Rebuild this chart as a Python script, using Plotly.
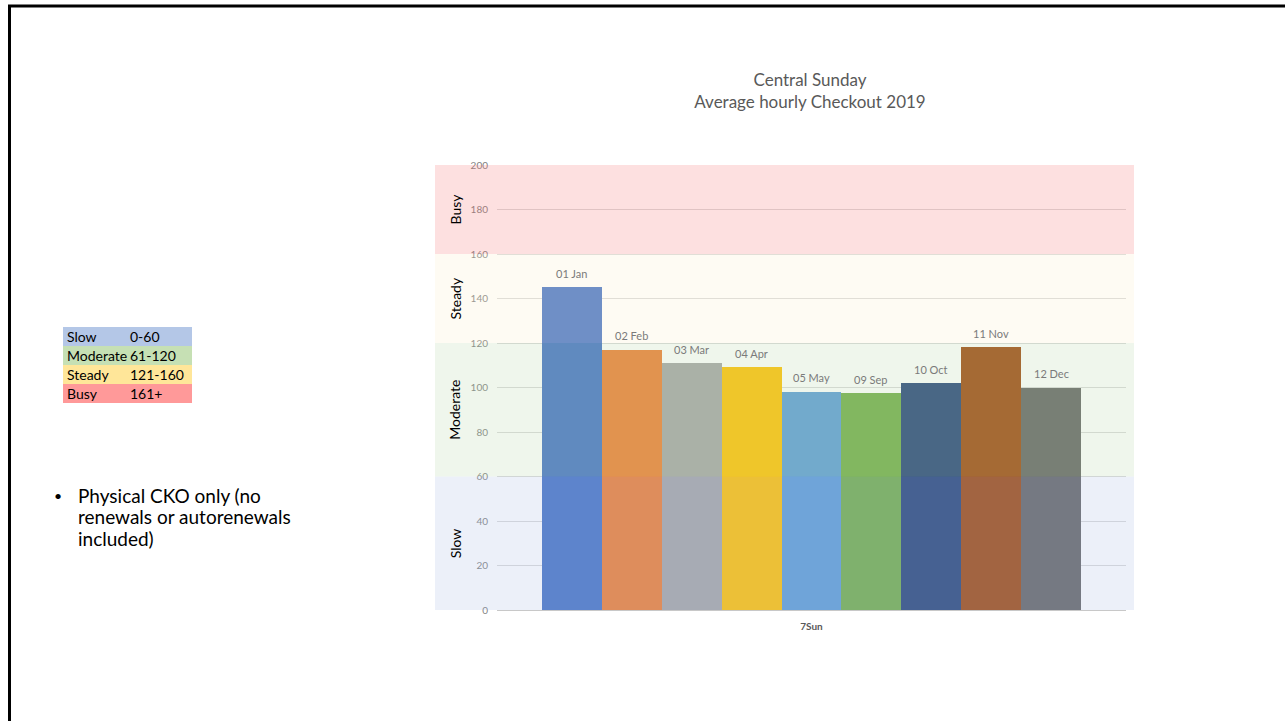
import plotly.graph_objects as go

# ---------------- data ----------------
months = ["01 Jan", "02 Feb", "03 Mar", "04 Apr", "05 May", "09 Sep", "10 Oct", "11 Nov", "12 Dec"]
checkouts = [145, 117, 111, 109, 98, 97.5, 102, 118, 100]
bar_colors = ["#4472C4", "#ED7D31", "#A5A5A5", "#FFC000", "#5B9BD5",
              "#70AD47", "#264478", "#9E480E", "#636363"]
category_label = "7Sun"

band_names = ["Slow", "Moderate", "Steady", "Busy"]
band_low = [0, 60, 120, 160]
band_high = [60, 120, 160, 200]
band_ranges = ["0-60", "61-120", "121-160", "161+"]
table_colors = ["#B4C7E7", "#C6E0B4", "#FFE699", "#FF9999"]
overlay_colors = ["#B1C1E5", "#BCDAAF", "#FAEECD", "#F77E7E"]

title_lines = ["Central Sunday", "Average hourly Checkout 2019"]
note_lines = ["Physical CKO only (no", "renewals or autorenewals", "included)"]

# ---------------- layout helpers ----------------
W, H = 1285, 721
ML, MR, MT, MB = 497, 159, 165, 111
PW, PH = W - ML - MR, H - MT - MB


def px(x):
    return (x - ML) / PW


def py(y):
    return (H - MB - y) / PH


FONT = "Lato"

fig = go.Figure()
fig.add_trace(go.Bar(
    x=months, y=checkouts,
    marker=dict(color=bar_colors, line=dict(width=0)),
    showlegend=False, hoverinfo="x+y",
))

shapes = []
annotations = []

# coloured bands drawn semi-transparently above the bars
for name, lo, hi, col in zip(band_names, band_low, band_high, overlay_colors):
    shapes.append(dict(type="rect", xref="paper", yref="y", layer="above",
                       x0=px(435), x1=px(1134), y0=lo, y1=hi,
                       fillcolor=col, opacity=0.24, line=dict(width=0)))
    annotations.append(dict(xref="paper", yref="y", x=px(455), y=(lo + hi) / 2,
                            text=name, textangle=-90, showarrow=False,
                            xanchor="center", yanchor="middle",
                            font=dict(family=FONT, size=14, color="#000000")))

# data labels
for m, v in zip(months, checkouts):
    annotations.append(dict(x=m, y=v, xref="x", yref="y", text=m, showarrow=False,
                            yshift=14, xanchor="center", yanchor="middle",
                            font=dict(family=FONT, size=11, color="#7A7A7A")))

# legend table at left
row_top = 327
row_h = 19
for i, (name, rng, col) in enumerate(zip(band_names, band_ranges, table_colors)):
    y0 = row_top + i * row_h
    shapes.append(dict(type="rect", xref="paper", yref="paper",
                       x0=px(63), x1=px(192), y0=py(y0 + row_h), y1=py(y0),
                       fillcolor=col, line=dict(width=0), layer="below"))
    annotations.append(dict(xref="paper", yref="paper", x=px(65), y=py(y0 + row_h / 2),
                            text=name, showarrow=False, xanchor="left", yanchor="middle",
                            font=dict(family=FONT, size=14, color="#000000")))
    annotations.append(dict(xref="paper", yref="paper", x=px(128), y=py(y0 + row_h / 2),
                            text=rng, showarrow=False, xanchor="left", yanchor="middle",
                            font=dict(family=FONT, size=14, color="#000000")))

# bullet note
annotations.append(dict(xref="paper", yref="paper", x=px(58), y=py(495), text="•",
                        showarrow=False, xanchor="center", yanchor="middle",
                        font=dict(family=FONT, size=14, color="#000000")))
for i, line in enumerate(note_lines):
    annotations.append(dict(xref="paper", yref="paper", x=px(76), y=py(495 + i * 21.5),
                            text=line, showarrow=False,
                            xanchor="left", yanchor="middle", align="left",
                            font=dict(family=FONT, size=19, color="#000000")))

# slide frame (left and top edges)
shapes.append(dict(type="line", xref="paper", yref="paper",
                   x0=px(9.5), x1=px(9.5), y0=py(5), y1=py(H + 5),
                   line=dict(color="#000000", width=3)))
shapes.append(dict(type="line", xref="paper", yref="paper",
                   x0=px(8), x1=px(W + 5), y0=py(6), y1=py(6),
                   line=dict(color="#000000", width=3)))

fig.update_layout(
    width=W, height=H,
    margin=dict(l=ML, r=MR, t=MT, b=MB, autoexpand=False),
    paper_bgcolor="#FFFFFF", plot_bgcolor="rgba(0,0,0,0)",
    bargap=0,
    title=dict(text="<br>".join(title_lines), x=px(810), xref="paper", xanchor="center",
               y=1 - 86 / H, yref="container", yanchor="middle",
               font=dict(family=FONT, size=17, color="#595959")),
    xaxis=dict(type="category", range=[-1.25, len(months) - 1 + 1.25],
               showticklabels=False, showgrid=False, zeroline=False,
               showline=True, linecolor="#C8C8C8", linewidth=1,
               title=dict(text="<b>" + category_label + "</b>", standoff=12,
                          font=dict(family=FONT, size=10, color="#595959"))),
    yaxis=dict(range=[0, 200], tick0=0, dtick=20, showgrid=True,
               gridcolor="#D9D9D9", gridwidth=1, zeroline=False, showline=False,
               ticks="", ticklabelstandoff=8,
               tickfont=dict(family=FONT, size=10, color="#7F7F7F")),
    shapes=shapes, annotations=annotations,
    font=dict(family=FONT),
)

fig.write_html("out.html")
